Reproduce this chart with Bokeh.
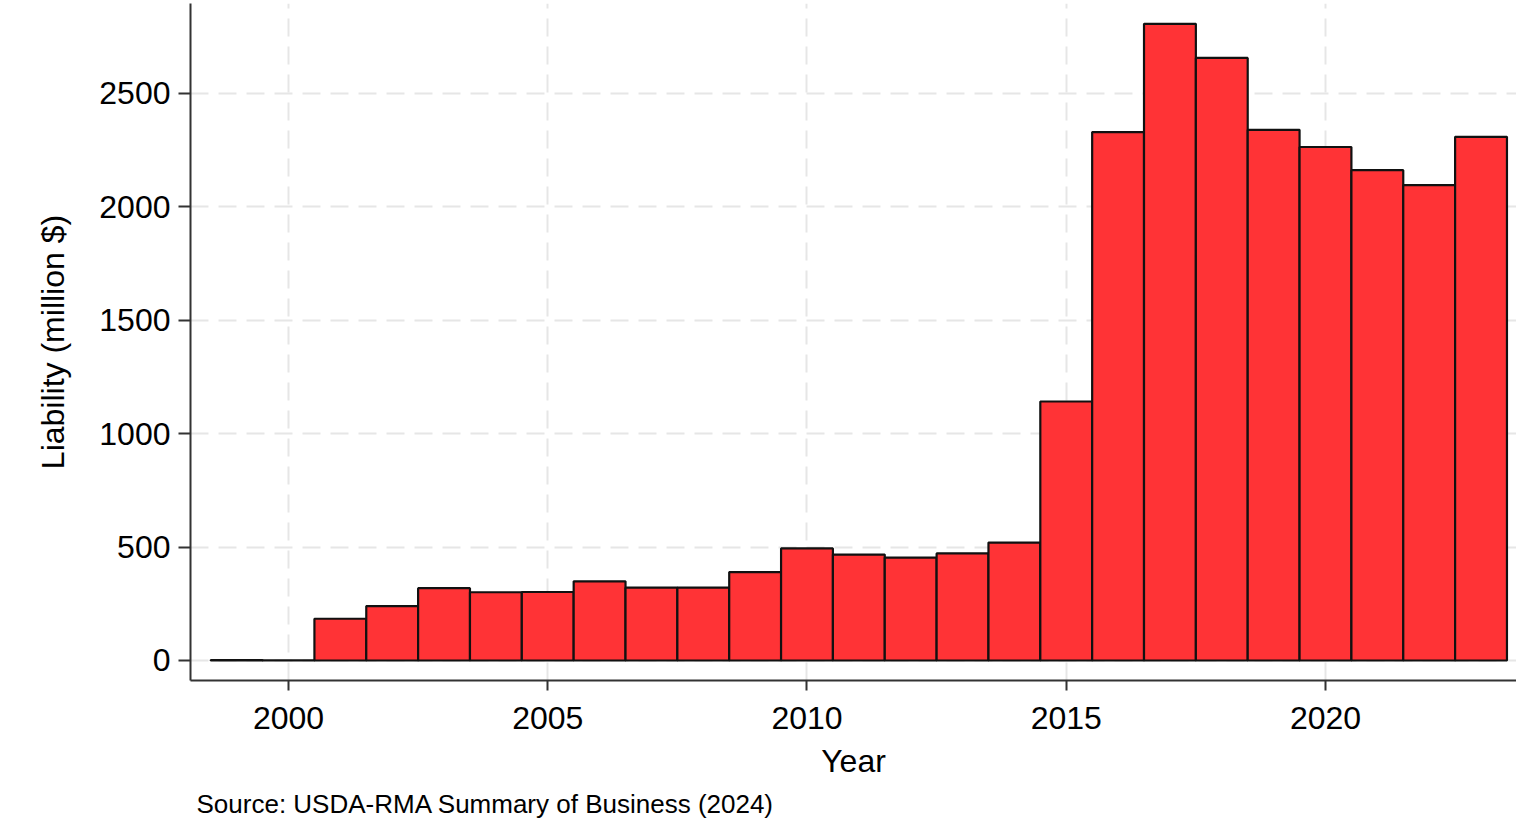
from bokeh.plotting import figure
from bokeh.models import Range1d, FixedTicker, Title
from bokeh.embed import file_html
from bokeh.resources import INLINE

years = list(range(1999, 2024))
liability = [2, 1, 184, 240, 319, 301, 302, 349, 321, 321, 390, 494, 467, 454, 472, 520,
             1142, 2330, 2807, 2657, 2340, 2264, 2162, 2096, 2309]
x_ticks = [2000, 2005, 2010, 2015, 2020]
y_ticks = [0, 500, 1000, 1500, 2000, 2500]

FONT = "Liberation Sans"

p = figure(width=1516, height=830, output_backend="svg", toolbar_location=None,
           x_range=Range1d(1998.11, 2023.684), y_range=Range1d(-88.2, 2896.8),
           min_border_left=190, min_border_right=0, min_border_top=3, min_border_bottom=150)
p.outline_line_color = None
p.background_fill_color = "white"
p.border_fill_color = "white"

p.vbar(x=years, top=liability, bottom=0, width=1.0,
       fill_color="#FF3336", line_color="#111111", line_width=2.2)

for ax in (p.xaxis[0], p.yaxis[0]):
    ax.axis_line_color = "#333333"
    ax.axis_line_width = 2
    ax.major_tick_line_color = "#333333"
    ax.major_tick_line_width = 2
    ax.major_tick_in = 0
    ax.minor_tick_line_color = None
    ax.major_label_text_font = FONT
    ax.major_label_text_font_size = "32px"
    ax.major_label_text_color = "black"
    ax.axis_label_text_font = FONT
    ax.axis_label_text_font_size = "32px"
    ax.axis_label_text_font_style = "normal"
    ax.axis_label_text_color = "black"

p.xaxis.ticker = FixedTicker(ticks=x_ticks)
p.yaxis.ticker = FixedTicker(ticks=y_ticks)
p.xaxis.major_tick_out = 10
p.yaxis.major_tick_out = 12
p.xaxis.major_label_standoff = 16
p.yaxis.major_label_standoff = 8
p.xaxis.axis_label = "Year"
p.yaxis.axis_label = "Liability (million $)"
p.xaxis.axis_label_standoff = 11
p.yaxis.axis_label_standoff = 25

for g in (p.xgrid[0], p.ygrid[0]):
    g.grid_line_color = "#e6e6e6"
    g.grid_line_width = 2
    g.grid_line_dash = "18 10"
p.xgrid.ticker = FixedTicker(ticks=x_ticks)
p.ygrid.ticker = FixedTicker(ticks=y_ticks)

src = Title(text="Source: USDA-RMA Summary of Business (2024)", align="left",
            text_font=FONT, text_font_size="26px", text_font_style="normal",
            text_color="black", offset=6)
p.add_layout(src, "below")

open("out.html", "w").write(file_html(p, INLINE))
